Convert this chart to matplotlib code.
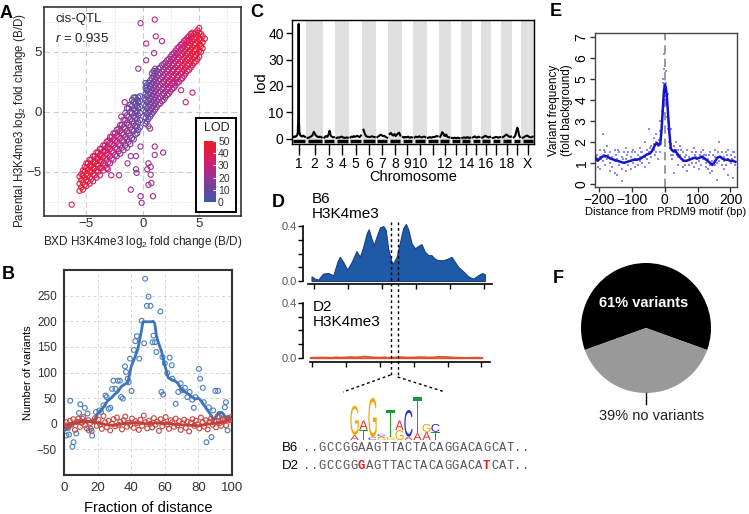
import numpy as np
import matplotlib
matplotlib.use('Agg')
import matplotlib.pyplot as plt
from matplotlib.colors import LinearSegmentedColormap, Normalize
from matplotlib.textpath import TextPath
from matplotlib.font_manager import FontProperties
from matplotlib.patches import PathPatch, Rectangle
from matplotlib.transforms import Affine2D
from matplotlib.lines import Line2D

plt.rcParams['font.family'] = ['Liberation Sans', 'DejaVu Sans']
plt.rcParams['mathtext.fontset'] = 'custom'
plt.rcParams['mathtext.rm'] = 'Liberation Sans'
plt.rcParams['mathtext.it'] = 'Liberation Sans:italic'

# ---------------- DATA ----------------
# Panel A: (BXD x, list of parental y, list of LOD)
A_cols = [
    (-5.6, [-6.6, -6.0, -5.4], [45, 42, 40]),
    (-5.45, [-6.3, -5.7, -5.2], [44, 47, 41]),
    (-5.3, [-6.5, -5.9, -5.3, -4.9], [44, 46, 40, 38]),
    (-5.15, [-6.1, -5.5, -5.0, -4.6], [43, 47, 44, 39]),
    (-5.0, [-6.2, -5.7, -5.2, -4.7, -4.3], [42, 48, 45, 40, 36]),
    (-4.85, [-5.8, -5.3, -4.8, -4.3], [41, 46, 44, 39]),
    (-4.7, [-6.0, -5.5, -5.0, -4.5, -4.0], [40, 45, 47, 42, 38]),
    (-4.55, [-5.6, -5.0, -4.5, -4.0], [40, 45, 43, 38]),
    (-4.4, [-5.8, -5.2, -4.7, -4.2, -3.7], [38, 44, 46, 41, 37]),
    (-4.25, [-5.3, -4.7, -4.2, -3.7], [38, 43, 42, 37]),
    (-4.1, [-5.5, -4.9, -4.4, -3.9, -3.4], [36, 42, 44, 40, 35]),
    (-3.95, [-5.0, -4.5, -3.9, -3.4], [36, 42, 41, 35]),
    (-3.8, [-5.3, -4.7, -4.1, -3.6, -3.1], [34, 40, 43, 38, 33]),
    (-3.65, [-4.7, -4.1, -3.6, -3.1], [34, 40, 39, 33]),
    (-3.5, [-4.9, -4.3, -3.8, -3.3, -2.8], [32, 38, 40, 36, 31]),
    (-3.35, [-4.5, -3.9, -3.3, -2.8], [32, 37, 37, 31]),
    (-3.2, [-4.7, -4.0, -3.5, -3.0, -2.5], [30, 35, 38, 34, 30]),
    (-3.05, [-4.2, -3.6, -3.0, -2.4], [30, 35, 35, 29]),
    (-2.9, [-4.3, -3.7, -3.1, -2.6, -2.1], [28, 33, 36, 32, 28]),
    (-2.75, [-3.9, -3.3, -2.7, -2.1], [28, 32, 33, 27]),
    (-2.6, [-4.0, -3.4, -2.8, -2.3, -1.8], [26, 30, 33, 30, 26]),
    (-2.45, [-3.6, -3.0, -2.4, -1.8], [26, 30, 31, 25]),
    (-2.3, [-3.7, -3.1, -2.5, -2.0, -1.5], [24, 28, 30, 27, 23]),
    (-2.15, [-3.3, -2.7, -2.1, -1.4], [24, 27, 28, 22]),
    (-2.0, [-3.5, -2.8, -2.2, -1.6, -1.1], [22, 26, 28, 25, 21]),
    (-1.85, [-3.0, -2.4, -1.8, -1.1], [22, 24, 25, 20]),
    (-1.7, [-3.2, -2.5, -1.9, -1.3, -0.7], [20, 23, 25, 22, 18]),
    (-1.55, [-2.8, -2.1, -1.4, -0.7, -0.1], [20, 22, 22, 18, 15]),
    (-1.4, [-3.0, -2.3, -1.6, -0.9, -0.3, 0.3], [18, 20, 22, 20, 16, 14]),
    (-1.25, [-2.5, -1.8, -1.1, -0.4, 0.3], [18, 19, 19, 16, 13]),
    (-1.1, [-2.7, -2.0, -1.3, -0.6, 0.0, 0.6], [16, 18, 19, 17, 14, 12]),
    (-0.95, [-2.2, -1.5, -0.8, -0.1, 0.5, 1.0], [15, 16, 16, 13, 11, 10]),
    (-0.8, [-2.3, -1.6, -1.0, -0.4, 0.2, 0.8, 1.2], [14, 15, 16, 14, 12, 10, 9]),
    (-0.65, [-1.9, -1.2, -0.5, 0.1, 0.7, 1.2], [12, 13, 13, 11, 9, 8]),
    (-0.5, [-1.8, -1.2, -0.6, 0.0, 0.5, 1.0], [10, 12, 12, 10, 9, 8]),
    (-0.4, [-1.5, -0.9, -0.3, 0.3, 0.8, 1.2], [9, 10, 10, 8, 7, 6]),
    (-0.25, [-1.3, -0.7, -0.1, 0.4, 0.9, 1.3], [8, 9, 9, 7, 6, 6]),
    (0.25, [-1.0, -0.5, 0.0, 0.5, 1.0, 1.5, 2.0, 2.4], [6, 7, 8, 8, 7, 7, 6, 6]),
    (0.35, [-0.8, -0.2, 0.3, 0.8, 1.3, 1.8, 2.2], [7, 8, 9, 9, 8, 7, 6]),
    (0.5, [-0.6, -0.1, 0.4, 0.9, 1.4, 1.9, 2.4], [9, 10, 10, 11, 10, 9, 8]),
    (0.65, [-0.4, 0.1, 0.6, 1.1, 1.6, 2.1, 2.6], [11, 12, 12, 12, 11, 10, 9]),
    (0.8, [-0.2, 0.3, 0.8, 1.3, 1.8, 2.3, 2.8, 3.2], [12, 13, 14, 14, 13, 12, 11, 10]),
    (0.95, [0.0, 0.5, 1.0, 1.5, 2.0, 2.5, 3.0, 3.4], [13, 14, 15, 16, 15, 14, 13, 12]),
    (1.1, [0.2, 0.7, 1.2, 1.7, 2.2, 2.7, 3.2, 3.6], [15, 16, 17, 17, 16, 15, 14, 13]),
    (1.25, [0.4, 0.9, 1.4, 1.9, 2.4, 2.9, 3.4], [16, 18, 19, 19, 18, 16, 15]),
    (1.4, [0.6, 1.1, 1.6, 2.1, 2.6, 3.1, 3.6], [18, 19, 20, 20, 19, 17, 16]),
    (1.55, [0.7, 1.2, 1.7, 2.2, 2.7, 3.2, 3.7], [19, 21, 22, 22, 20, 18, 17]),
    (1.7, [0.9, 1.4, 1.9, 2.4, 2.9, 3.4, 3.9], [20, 22, 24, 23, 21, 20, 18]),
    (1.85, [1.0, 1.5, 2.0, 2.5, 3.0, 3.5, 4.0], [21, 24, 26, 25, 23, 21, 19]),
    (2.0, [1.2, 1.7, 2.2, 2.7, 3.2, 3.7, 4.1], [22, 25, 27, 26, 24, 22, 20]),
    (2.15, [1.4, 1.9, 2.4, 2.9, 3.4, 3.9, 4.3], [23, 26, 29, 28, 25, 23, 21]),
    (2.3, [1.5, 2.0, 2.5, 3.0, 3.5, 4.0, 4.4], [24, 27, 30, 29, 26, 24, 22]),
    (2.45, [1.7, 2.2, 2.7, 3.2, 3.7, 4.2, 4.6], [25, 28, 31, 30, 27, 25, 23]),
    (2.6, [1.9, 2.4, 2.9, 3.4, 3.9, 4.4, 4.8], [26, 30, 32, 31, 28, 26, 24]),
    (2.75, [2.0, 2.5, 3.0, 3.5, 4.0, 4.5, 4.9], [27, 31, 34, 32, 29, 27, 25]),
    (2.9, [2.2, 2.7, 3.2, 3.7, 4.2, 4.7, 5.1], [28, 32, 35, 33, 30, 28, 26]),
    (3.05, [2.4, 2.9, 3.4, 3.9, 4.4, 4.9, 5.3], [29, 33, 36, 34, 31, 29, 27]),
    (3.2, [2.5, 3.0, 3.5, 4.0, 4.5, 5.0, 5.4], [30, 34, 37, 35, 32, 30, 28]),
    (3.35, [2.7, 3.2, 3.7, 4.2, 4.7, 5.2, 5.6], [31, 35, 38, 36, 33, 31, 29]),
    (3.5, [2.8, 3.3, 3.8, 4.3, 4.8, 5.3, 5.7], [32, 36, 39, 37, 34, 32, 30]),
    (3.65, [3.0, 3.5, 4.0, 4.5, 5.0, 5.5, 5.9], [33, 37, 40, 38, 35, 33, 31]),
    (3.8, [3.2, 3.7, 4.2, 4.7, 5.2, 5.7, 6.0], [34, 38, 41, 39, 36, 34, 32]),
    (3.95, [3.4, 3.9, 4.4, 4.9, 5.4, 5.9, 6.2], [35, 39, 42, 40, 37, 35, 33]),
    (4.1, [3.5, 4.0, 4.5, 5.0, 5.5, 6.0, 6.3], [36, 40, 43, 41, 38, 36, 34]),
    (4.25, [3.7, 4.2, 4.7, 5.2, 5.7, 6.2, 6.5], [37, 41, 44, 42, 39, 37, 35]),
    (4.4, [3.9, 4.4, 4.9, 5.4, 5.9, 6.3, 6.6], [38, 42, 45, 43, 40, 38, 36]),
    (4.55, [4.1, 4.6, 5.1, 5.6, 6.1, 6.5], [39, 43, 46, 44, 41, 39]),
    (4.7, [4.2, 4.7, 5.2, 5.7, 6.2, 6.6], [40, 44, 47, 45, 42, 40]),
    (4.85, [4.4, 4.9, 5.4, 5.9, 6.4, 6.8], [41, 45, 48, 46, 43, 41]),
    (5.0, [4.6, 5.1, 5.6, 6.1, 6.6, 7.0], [42, 46, 48, 46, 44, 42]),
    (5.15, [5.0, 5.5, 6.0, 6.5], [44, 47, 46, 43]),
    (5.3, [5.3, 5.8, 6.3], [44, 47, 45]),
    (5.5, [6.1], [46]),
]
A_outliers = [
    (-0.2, 7.4, 22), (1.06, 7.7, 26), (0.3, 5.7, 24), (1.15, 6.3, 28), (1.7, 5.9, 27),
    (1.0, 4.9, 25), (-0.4, 3.6, 20), (0.3, 4.3, 22), (-1.6, 0.8, 24), (-1.9, -0.4, 26),
    (0.5, -1.2, 20), (0.65, -1.4, 22), (1.06, -2.9, 24), (1.8, -3.4, 25), (1.06, -3.6, 22),
    (0.5, -4.3, 20), (0.7, -4.6, 21), (0.4, -4.8, 23), (0.7, -5.25, 22), (0.5, -6.1, 24),
    (0.76, -5.95, 22), (0.9, -7.05, 25), (-0.2, -7.05, 20), (-0.1, -7.6, 22), (-1.06, -6.5, 24),
    (-1.35, -4.3, 22), (-0.6, -4.8, 21), (-0.55, -5.1, 20), (-2.1, -5.3, 26), (-2.8, -5.3, 28),
    (-3.1, -4.8, 30), (-6.3, -7.75, 40), (3.8, 0.8, 28), (4.4, 1.6, 30), (3.4, 1.8, 27),
    (2.8, 2.4, 26), (-0.6, -3.7, 20), (-1.06, -3.7, 22), (-0.2, -2.9, 18),
]
A_r = 0.935
LOD_ticks = [0, 10, 20, 30, 40, 50]

# Panel B
B_blue_x = [1, 1.4, 3, 3.7, 5, 5.7, 7.3, 8.9, 9.7, 10.8, 12.4, 14, 14.8, 16, 16.8, 19, 21, 22, 23.5, 24.7,
            25.4, 26.6, 27.6, 28.6, 29.4, 30.6, 32, 33.3, 34, 35, 36.3, 36.9, 37.9, 38.5, 39.3, 40.2, 41.6,
            42.4, 43.4, 44.8, 46.2, 47.7, 48.3, 49.3, 50.3, 51.5, 52.7, 53.3, 54.2, 55, 57.4, 58, 58.6, 59,
            60, 61.5, 62.9, 64.1, 64.5, 66.5, 68, 69.4, 70.4, 72, 73.4, 74.8, 76.3, 77.3, 78.3, 80.3, 81,
            82.6, 83.2, 84.8, 86.2, 87.8, 88.8, 90.1, 91.7, 92.5, 94, 95.7, 96.4, 97.4, 98]
B_blue_y = [-3, -23, -21, 45, -45, -36, -19, 21, 38, 10, 31, 20, -13, -10, -23, 23, 26, 23, 36, 55,
            52, 29, 31, 68, 84, 68, 84, 84, 52, 49, 112, 101, 88, 81, 127, 64, 144,
            161, 171, 127, 201, 157, 283, 230, 248, 230, 159, 172, 159, 140, 219, 62, 130, 57,
            118, 99, 129, 114, 88, 39, 62, 79, 65, 70, 52, 62, 47, 31, 52, 107, 88,
            70, 42, -36, 32, -26, 26, 64, 64, 13, 16, 32, 42, -13, 10]
B_blue_line_x = [0, 2, 4, 6, 8, 10, 12, 14, 16, 18, 20, 22, 24, 26, 28, 30, 32, 34, 36, 38, 40, 42, 44, 46,
                 47, 48, 50, 52, 53, 54, 55, 56, 58, 60, 62, 64, 66, 68, 70, 72, 74, 76, 78, 80, 82, 84,
                 86, 88, 89, 90, 92, 94, 96, 98, 100]
B_blue_line_y = [-14, -10, -4, 2, 5, 6, 6, 5, 5, 6, 20, 25, 35, 45, 50, 57, 62, 72, 77, 80, 112, 128, 146,
                 180, 199, 199, 199, 199, 200, 196, 172, 160, 142, 114, 90, 86, 84, 78, 66, 62, 58, 53, 48,
                 50, 43, 33, 24, 14, 6, 12, 22, 22, 14, 10, 8]
B_red_bins = np.arange(0.5, 100, 1.0)
B_red_y = [-5, 3, -8, 6, -2, 9, -12, 4, 10, -6,
           2, 13, -3, -9, 7, 1, -14, 5, 11, -4,
           8, -1, -10, 15, 3, -7, 6, -13, 0, 9,
           -5, 12, -2, 4, -11, 7, 14, -6, 2, -3,
           10, -8, 5, 1, -12, 8, -4, 16, 3, -9,
           6, 0, -7, 11, -2, 4, -14, 9, -5, 2,
           13, -1, -10, 7, 3, -6, 10, -3, 5, -12,
           1, 8, -8, 4, -15, 2, 9, -4, 6, -1,
           -9, 12, 3, -6, 7, -11, 4, 10, -2, 6,
           -7, 14, 1, -4, 9, 5, -3, 11, 7, 13]
B_red_line_x = [0, 5, 10, 15, 20, 25, 30, 35, 40, 45, 50, 55, 60, 65, 70, 75, 80, 85, 90, 95, 100]
B_red_line_y = [-3, 0, 3, 4, 2, -2, -3, 0, 2, 1, 0, 2, 1, -1, -2, -3, -4, -1, 1, 4, 8]

# Panel C
C_chroms = ['1', '2', '3', '4', '5', '6', '7', '8', '9', '10', '11', '12', '13', '14', '15', '16', '17', '18', '19', 'X']
C_tick_labels = ['1', '2', '3', '4', '5', '6', '7', '8', '9', '10', '', '12', '', '14', '', '16', '', '18', '', 'X']
C_len = [88, 105, 73, 85, 78, 85, 73, 80, 68, 80, 73, 68, 58, 60, 50, 60, 55, 63, 48, 75]
C_gap = 20
C_chr1_pos = [0, 8, 16, 24, 30, 34, 37, 39, 40, 41, 43, 46, 50, 58, 66, 74, 82, 88]
C_chr1_lod = [0.6, 0.9, 0.7, 1.0, 1.4, 2.5, 8, 30, 43.5, 30, 6, 2.5, 1.5, 1.0, 0.8, 1.2, 0.9, 0.7]
C_lod_other = [
    [0.3, 0.5, 0.8, 1.2, 2.6, 1.5, 0.9, 0.6, 0.8, 0.5],
    [0.4, 0.8, 1.0, 0.7, 1.6, 3.0, 1.2, 0.8, 0.5, 0.6],
    [0.3, 0.5, 0.4, 0.6, 0.8, 0.5, 0.4, 0.3, 0.5, 0.4],
    [0.5, 0.8, 0.6, 1.0, 0.7, 0.9, 1.1, 0.8, 0.6, 1.2],
    [3.4, 2.0, 1.0, 0.8, 0.7, 0.6, 0.8, 0.9, 0.7, 0.6],
    [0.6, 0.9, 1.2, 1.5, 1.3, 1.0, 1.1, 0.9, 0.6, 0.4],
    [1.8, 2.2, 1.5, 1.2, 1.8, 1.0, 1.5, 2.0, 2.3, 1.2],
    [0.6, 0.4, 0.7, 0.5, 0.6, 0.8, 0.5, 0.4, 0.6, 0.5],
    [0.5, 0.8, 0.6, 0.7, 0.9, 0.6, 0.5, 0.7, 0.8, 0.6],
    [0.3, 0.5, 0.6, 0.4, 0.5, 0.7, 0.6, 0.8, 1.0, 0.9],
    [0.8, 1.5, 2.5, 2.0, 1.2, 1.0, 1.6, 0.8, 0.6, 0.5],
    [0.3, 0.2, 0.3, 0.4, 0.3, 0.2, 0.3, 0.4, 0.3, 0.2],
    [0.3, 0.4, 0.5, 0.4, 0.3, 0.5, 0.6, 0.4, 0.3, 0.4],
    [0.5, 0.7, 0.9, 0.6, 0.4, 0.5, 0.8, 0.6],
    [0.4, 0.6, 0.9, 1.1, 0.8, 0.6, 0.5, 0.7],
    [0.3, 0.4, 0.5, 0.7, 0.6, 0.4, 0.5, 0.6],
    [0.6, 0.8, 1.2, 1.6, 1.3, 0.9, 0.7, 0.8],
    [0.5, 0.8, 1.5, 3.0, 4.2, 3.0, 1.2, 0.6],
    [0.4, 0.6, 1.0, 1.2, 0.9, 0.6, 0.5, 0.8],
]

# Panel D
D_x = [-7, 3, 13, 27, 42, 57, 69, 76, 86, 98, 111, 125, 135, 145, 155, 161, 169, 176, 184, 194,
       204, 211, 218, 228, 233, 243, 252, 262, 270, 277, 287, 297, 306, 316, 326, 336, 345, 355, 365, 380,
       394, 404, 414, 424, 438, 453, 468, 482, 494, 502]
D_b6 = [0.034, 0.017, 0.01, 0.054, 0.058, 0.041, 0.139, 0.176, 0.139, 0.083,
        0.139, 0.217, 0.176, 0.249, 0.346, 0.376, 0.31, 0.26, 0.322, 0.39,
        0.40, 0.37, 0.237, 0.139, 0.13, 0.176, 0.273, 0.383, 0.415, 0.376,
        0.273, 0.237, 0.254, 0.268, 0.212, 0.188, 0.188, 0.163, 0.151, 0.151,
        0.163, 0.176, 0.139, 0.102, 0.071, 0.034, 0.017, 0.041, 0.058, 0.049]
D_d2 = [0.006, 0.008, 0.007, 0.009, 0.008, 0.007, 0.01, 0.009, 0.008, 0.01,
        0.012, 0.01, 0.011, 0.013, 0.016, 0.014, 0.012, 0.01, 0.009, 0.008,
        0.009, 0.01, 0.008, 0.007, 0.008, 0.009, 0.01, 0.011, 0.01, 0.009,
        0.008, 0.009, 0.01, 0.012, 0.011, 0.01, 0.009, 0.01, 0.012, 0.014,
        0.013, 0.011, 0.009, 0.008, 0.007, 0.006, 0.007, 0.008, 0.007, 0.006]
D_motif = (225, 246)
D_logo = [
    [('A', 0.23), ('G', 1.33)],
    [('T', 0.47), ('A', 0.42)],
    [('C', 0.12), ('G', 1.8)],
    [('G', 0.08), ('A', 0.1), ('C', 0.1)],
    [('G', 0.15), ('T', 1.22)],
    [('G', 0.45), ('A', 0.44)],
    [('A', 0.15), ('C', 1.22)],
    [('A', 0.31), ('T', 1.64)],
    [('A', 0.37), ('G', 0.36)],
    [('T', 0.37), ('C', 0.36)],
]
D_seq_B6 = 'GCCGGAAGTTACTACAGGACAGCAT'
D_seq_D2 = 'GCCGGGAGTTACTACAGGACATCAT'

# Panel E
E_dot_cols = [
    (-212, [1.5, 1.0]), (-205, [1.2, 0.8]), (-198, [1.6, 1.3, 0.7]), (-190, [2.4, 1.1]),
    (-183, [1.5, 0.9, 1.3]), (-176, [1.8, 1.2]), (-168, [1.5, 0.6, 1.0]), (-160, [1.3, 0.8]),
    (-153, [1.6, 1.1, 0.5]), (-146, [1.2, 0.4]), (-139, [1.5, 0.9]), (-132, [0.15, 1.3, 0.7]),
    (-125, [1.5, 1.0]), (-118, [1.2, 0.6, 1.7]), (-111, [1.5, 0.9]), (-104, [1.3, 0.7, 1.1]),
    (-97, [1.6, 1.0]), (-90, [1.2, 0.8, 1.5]), (-83, [1.4, 0.9]), (-76, [1.7, 1.1, 1.3]),
    (-69, [1.5, 1.0]), (-62, [2.0, 1.3, 0.8]), (-55, [1.6, 1.2]), (-48, [1.5, 2.6, 1.0]),
    (-41, [1.8, 1.3]), (-34, [2.2, 1.6, 1.9]), (-27, [2.0, 1.5, 2.4]), (-20, [1.8, 1.2]),
    (-14, [2.5, 3.0, 1.5]), (-9, [3.5, 2.8]), (-5, [4.8, 5.0, 4.0]), (-2, [5.5, 6.2, 4.5]),
    (0, [7.0, 6.5, 4.2]), (3, [5.4, 3.8, 4.8]), (6, [4.3, 4.0, 3.2]), (10, [3.0, 2.6, 4.3]),
    (14, [2.5, 2.0]), (18, [1.9, 1.4, 2.6]), (23, [1.6, 1.2]), (28, [1.8, 1.5, 0.5]),
    (34, [1.6, 2.0]), (40, [1.3, 1.6, 0.9]), (47, [1.8, 1.4]), (54, [1.5, 1.1, 0.8]),
    (61, [1.3, 0.9]), (68, [1.6, 1.1, 0.6]), (75, [1.3, 0.9]), (82, [1.5, 1.0, 1.2]),
    (89, [1.7, 0.8]), (96, [1.3, 1.0, 1.5]), (103, [1.1, 0.7]), (110, [1.5, 1.3, 0.9]),
    (117, [1.2, 1.6]), (124, [1.4, 1.0, 0.8]), (131, [1.2, 0.7]), (138, [1.5, 0.9, 0.5]),
    (145, [1.1, 0.6]), (152, [1.3, 0.9, 1.6]), (159, [1.0, 0.2]), (166, [2.0, 1.3, 1.1]),
    (173, [1.5, 0.9]), (180, [1.3, 1.1, 0.7]), (187, [1.5, 0.9]), (194, [1.2, 0.4, 1.6]),
    (201, [1.4, 1.0]), (208, [1.5, 0.3, 1.1]), (214, [1.3, 0.9]),
    (-208, [1.4]), (-194, [1.2]), (-186, [1.6]), (-172, [1.4]), (-164, [1.2]), (-150, [1.4]),
    (-142, [1.6]), (-128, [1.2]), (-114, [1.4]), (-100, [1.5]), (-86, [1.2]), (-72, [1.5]),
    (-58, [1.4]), (-44, [1.7]), (-30, [1.4]), (-17, [2.1]), (16, [1.7]), (26, [1.4]),
    (37, [1.4]), (50, [1.6]), (64, [1.4]), (78, [1.2]), (92, [1.4]), (106, [1.4]),
    (120, [1.4]), (134, [1.4]), (148, [1.4]), (162, [1.5]), (176, [1.2]), (190, [1.4]),
    (204, [1.2]), (211, [1.5]),
]
E_line_x = [-213, -205, -195, -185, -175, -165, -155, -145, -135, -125,
            -115, -105, -95, -85, -75, -65, -55, -45, -38, -30,
            -24, -18, -14, -10, -6, -3, 0, 3, 6, 9,
            13, 18, 22, 26, 30, 35, 42, 50, 58, 66,
            74, 82, 90, 98, 106, 114, 122, 130, 138, 145,
            152, 160, 168, 176, 184, 192, 200, 208, 215]
E_line_y = [1.3, 1.1, 1.25, 1.35, 1.3, 1.2, 1.15, 1.1, 1.05, 1.0,
            1.05, 1.1, 1.15, 1.15, 1.2, 1.3, 1.4, 1.45, 1.6, 1.85,
            1.95, 1.85, 1.9, 2.6, 3.6, 4.4, 4.75, 4.6, 4.2, 3.5,
            2.6, 1.7, 1.6, 1.55, 1.6, 1.5, 1.35, 1.2, 1.1, 1.1,
            1.15, 1.2, 1.25, 1.2, 1.25, 1.3, 1.2, 1.1, 1.0, 0.9,
            1.05, 1.25, 1.3, 1.2, 1.15, 1.15, 1.1, 1.1, 1.05]

# Panel F
F_values = [61, 39]
F_labels = ['61% variants', '39% no variants']
F_colors = ['#000000', '#999999']

# ---------------- FIGURE ----------------
W, H = 749, 514
fig = plt.figure(figsize=(W / 100, H / 100), dpi=100)


def ax_px(x0, y0, x1, y1):
    return fig.add_axes([x0 / W, 1 - y1 / H, (x1 - x0) / W, (y1 - y0) / H])


def ftext(x, y, s, **kw):
    return fig.text(x / W, 1 - y / H, s, **kw)


def fline(xs, ys, **kw):
    fig.add_artist(Line2D([x / W for x in xs], [1 - y / H for y in ys], transform=fig.transFigure, **kw))


# ---- A ----
lod_cmap = LinearSegmentedColormap.from_list(
    'lod', ['#3d58a8', '#6a45a0', '#963594', '#c6207a', '#e11c4c', '#ec1f2b'])
lod_norm = Normalize(0, 50)
axA = ax_px(44, 7, 241, 216)
ax_x, ax_y, ax_l = [], [], []
for x, ys, ls in A_cols:
    for y, l in zip(ys, ls):
        ax_x.append(x); ax_y.append(y); ax_l.append(l)
for x, y, l in A_outliers:
    ax_x.append(x); ax_y.append(y); ax_l.append(l)
axA.scatter(ax_x, ax_y, s=14, facecolors='none', edgecolors=lod_cmap(lod_norm(ax_l)), linewidths=0.8)
axA.set_xlim(-8.75, 8.7)
axA.set_ylim(-8.7, 8.75)
axA.set_xticks([-5, 0, 5])
axA.set_yticks([-5, 0, 5])
axA.set_xticks([-7.5, -2.5, 2.5, 7.5], minor=True)
axA.set_yticks([-7.5, -2.5, 2.5, 7.5], minor=True)
axA.grid(which='major', ls=(0, (5, 3)), color='#cccccc', lw=0.8)
axA.grid(which='minor', ls=(0, (2, 2)), color='#e2e2e2', lw=0.6)
axA.set_axisbelow(True)
axA.tick_params(which='both', length=0, labelsize=9.5, colors='#333333', pad=1.5)
for s in axA.spines.values():
    s.set_color('#333333'); s.set_linewidth(1.2)
axA.set_xlabel('BXD H3K4me3 log$_2$ fold change (B/D)', fontsize=8.5, color='#222222', labelpad=3)
axA.set_ylabel('Parental H3K4me3 log$_2$ fold change (B/D)', fontsize=8.3, color='#222222')
axA.yaxis.set_label_coords(-0.082, 0.455)
axA.text(0.056, 0.97, 'cis-QTL', transform=axA.transAxes, fontsize=9.5, va='top', ha='left', color='#222222')
axA.text(0.056, 0.88, '$r$ = %.3f' % A_r, transform=axA.transAxes, fontsize=9.5, va='top', ha='left', color='#222222')
axA.add_patch(Rectangle((0.774, 0.019), 0.202, 0.45, transform=axA.transAxes,
                        facecolor='white', edgecolor='black', lw=1.4, zorder=5))
axA.text(0.875, 0.421, 'LOD', transform=axA.transAxes, fontsize=9, ha='center', va='center', zorder=6, color='#222222')
cax = ax_px(204, 141, 216, 202)
cax.imshow(np.linspace(0, 50, 256).reshape(-1, 1), aspect='auto', cmap=lod_cmap, origin='lower',
           extent=[0, 1, 0, 50])
cax.set_xticks([])
cax.yaxis.tick_right()
cax.set_yticks(LOD_ticks)
cax.tick_params(axis='y', length=2.5, color='white', direction='in', labelsize=7.5, pad=1.5, labelcolor='#333333')
for s in cax.spines.values():
    s.set_visible(False)

# ---- B ----
axB = ax_px(64, 270, 232, 475)
axB.scatter(B_blue_x, B_blue_y, s=12, facecolors='none', edgecolors='#4a7dbf', linewidths=0.8, zorder=2)
axB.plot(B_blue_line_x, B_blue_line_y, color='#3b74b8', lw=2, zorder=3)
axB.scatter(B_red_bins, B_red_y, s=12, facecolors='none', edgecolors='#c9473f', linewidths=0.8, zorder=4)
axB.plot(B_red_line_x, B_red_line_y, color='#c63f38', lw=2, zorder=5)
axB.set_xlim(0, 100)
axB.set_ylim(-100, 300)
axB.set_xticks([0, 20, 40, 60, 80, 100])
axB.set_yticks([-50, 0, 50, 100, 150, 200, 250])
axB.grid(True, ls=(0, (3, 3)), color='#d5d5d5', lw=0.7)
axB.set_axisbelow(True)
axB.tick_params(length=0, colors='#333333', pad=5)
axB.tick_params(axis='x', labelsize=9.5)
axB.tick_params(axis='y', labelsize=8.5)
for s in axB.spines.values():
    s.set_color('#333333'); s.set_linewidth(1.5)
axB.set_xlabel('Fraction of distance', fontsize=10.5, labelpad=5)
axB.set_ylabel('Number of variants', fontsize=8, labelpad=3)

# ---- C ----
axC = ax_px(292, 20, 534, 144)
starts = np.concatenate([[0], np.cumsum(np.array(C_len) + C_gap)[:-1]])
centers = starts + (np.array(C_len) + C_gap) / 2
total = float(np.sum(np.array(C_len) + C_gap))
for i in range(len(C_chroms)):
    if i % 2 == 1:
        axC.axvspan(starts[i], starts[i] + C_len[i] + C_gap, color='#e0e0e0', lw=0, zorder=0)
    x0 = starts[i] + C_gap / 2
    if i == 0:
        px_ = x0 + np.array(C_chr1_pos)
        py_ = C_chr1_lod
    else:
        py_ = C_lod_other[i - 1]
        px_ = x0 + np.linspace(0, C_len[i], len(py_))
    axC.plot(px_, py_, color='black', lw=1.5, zorder=3)
    axC.plot([x0, x0 + C_len[i]], [-1.0, -1.0], color='black', lw=2.5, solid_capstyle='butt', zorder=3)
axC.set_xlim(0, total)
axC.set_ylim(-2, 45)
axC.set_xticks(centers)
axC.set_xticklabels(C_tick_labels)
axC.set_yticks([0, 10, 20, 30, 40])
axC.tick_params(axis='x', length=8, width=1, pad=1.5, labelsize=10)
axC.tick_params(axis='y', length=4, width=1, pad=2, labelsize=10)
for s in axC.spines.values():
    s.set_linewidth(1.0)
axC.set_xlabel('Chromosome', fontsize=10.5, labelpad=-1)
axC.set_ylabel('lod', fontsize=10.5, labelpad=0)

# ---- D ----
axD1 = ax_px(303, 215, 493, 284)
axD1.fill_between(D_x, D_b6, 0, facecolor='#1f5aa6', edgecolor='#1b3d8a', lw=0.8)
axD1.set_xlim(-32, 526)
axD1.set_ylim(-0.0218, 0.48)
axD2 = ax_px(303, 295, 493, 362)
axD2.fill_between(D_x, D_d2, 0, facecolor='#ee8a55', edgecolor='#d9532b', lw=1.0)
axD2.set_xlim(-27.5, 534.6)
axD2.set_ylim(-0.029, 0.458)
for a in (axD1, axD2):
    a.spines['top'].set_visible(False)
    a.spines['right'].set_visible(False)
    a.spines['left'].set_bounds(0, 0.4)
    a.spines['left'].set_linewidth(1.2)
    a.spines['bottom'].set_linewidth(1.2)
    a.set_yticks([0, 0.4])
    a.set_yticklabels(['0.0', '0.4'])
    a.set_yticks([0.1, 0.2, 0.3], minor=True)
    a.set_xticks([0, 100, 200, 300, 400, 500])
    a.set_xticklabels([])
    a.tick_params(which='both', length=3.5, width=1)
    a.tick_params(axis='y', labelsize=8, labelcolor='#555555', pad=1)
    a.patch.set_alpha(0)
axD1.spines['bottom'].set_bounds(-17, 524)
axD2.spines['bottom'].set_bounds(-8, 526)
ftext(312, 192, 'B6\nH3K4me3', fontsize=11, va='top', ha='left', linespacing=1.05)
ftext(313, 300, 'D2\nH3K4me3', fontsize=11, va='top', ha='left', linespacing=1.05)
# motif dashed lines (x from data coordinates of top track)
fig.canvas.draw()
mxp = [axD1.transData.transform((m, 0))[0] for m in D_motif]
dash = dict(color='black', lw=1.0, ls=(0, (2, 2)))
fline([mxp[0], mxp[0]], [222, 375], **dash)
fline([mxp[1], mxp[1]], [222, 377], **dash)
fline([mxp[0], 343], [375, 392], **dash)
fline([mxp[1], 445], [377, 392], **dash)
# logo
axL = ax_px(350, 396, 440, 440)
axL.set_xlim(0, len(D_logo))
axL.set_ylim(0, 2.0)
axL.axis('off')
logo_fp = FontProperties(family='Liberation Sans')
logo_colors = {'A': '#e0302a', 'C': '#2f2fd0', 'G': '#f2a900', 'T': '#1f9a2a'}
for ci, col in enumerate(D_logo):
    y0 = 0.0
    for ch, h in col:
        tp = TextPath((0, 0), ch, size=1, prop=logo_fp)
        bb = tp.get_extents()
        t = Affine2D().translate(-bb.x0, -bb.y0).scale(0.92 / bb.width, h / bb.height).translate(ci + 0.04, y0)
        axL.add_patch(PathPatch(t.transform_path(tp), facecolor=logo_colors[ch], edgecolor='none'))
        y0 += h
# sequences
ftext(282, 448, 'B6', fontsize=9.5, va='center', ha='left')
ftext(282, 466, 'D2', fontsize=9.5, va='center', ha='left')
cw = 7.83
for row, (seq, yy) in enumerate([(D_seq_B6, 448), (D_seq_D2, 466)]):
    full = '..' + seq + '..'
    for i, ch in enumerate(full):
        diff = (row == 1 and 2 <= i < 2 + len(seq) and seq[i - 2] != D_seq_B6[i - 2])
        ftext(303 + i * cw, yy, ch, fontsize=8.8, family='Liberation Mono', va='center', ha='left',
              color='#e02020' if diff else '#555555', weight='bold' if diff else 'normal')

# ---- E ----
axE = ax_px(595, 33, 737, 187)
ex, ey = [], []
for x, ys in E_dot_cols:
    for y in ys:
        ex.append(x); ey.append(y)
axE.scatter(ex, ey, s=2.5, marker='s', color='#8a8af0', linewidths=0, zorder=2)
axE.axvline(0, color='#888888', lw=1.2, ls=(0, (5, 3)), zorder=1)
axE.plot(E_line_x, E_line_y, color='#1414cc', lw=1.8, zorder=3)
axE.set_xlim(-213, 220)
axE.set_ylim(-0.15, 7.2)
axE.set_xticks([-200, -100, 0, 100, 200])
axE.set_yticks(range(0, 8))
axE.tick_params(length=3.5, width=1, labelsize=10, pad=1, color='#333333')
for lab in axE.get_yticklabels():
    lab.set_rotation(90)
    lab.set_va('center')
for s in axE.spines.values():
    s.set_color('#444444'); s.set_linewidth(1.0)
axE.set_xlabel('Distance from PRDM9 motif (bp)', fontsize=8, labelpad=0)
axE.set_ylabel('Variant frequency\n(fold background)', fontsize=8.5, linespacing=1.1)
axE.yaxis.set_label_coords(-0.155, 0.5)

# ---- F ----
axF = ax_px(581, 263, 711, 393)
gray_frac = F_values[1] / sum(F_values)
axF.pie(F_values, colors=F_colors, startangle=270 + gray_frac * 180, counterclock=True,
        radius=1, wedgeprops=dict(linewidth=0))
axF.set_xlim(-1, 1)
axF.set_ylim(-1, 1)
axF.axis('off')
ftext(644, 303, F_labels[0], fontsize=10.5, color='white', weight='bold', ha='center', va='center')
ftext(652, 416, F_labels[1], fontsize=10.5, color='#222222', ha='center', va='center')
fline([646, 646], [393, 404], color='black', lw=1)

# ---- panel letters ----
for lbl, x, y in [('A', 0, 5), ('B', 2, 266), ('C', 250, 4), ('D', 272, 194), ('E', 550, 3), ('F', 553, 270)]:
    ftext(x, y, lbl, fontsize=13, weight='bold', va='top', ha='left')

fig.savefig('out.png', dpi=100)
